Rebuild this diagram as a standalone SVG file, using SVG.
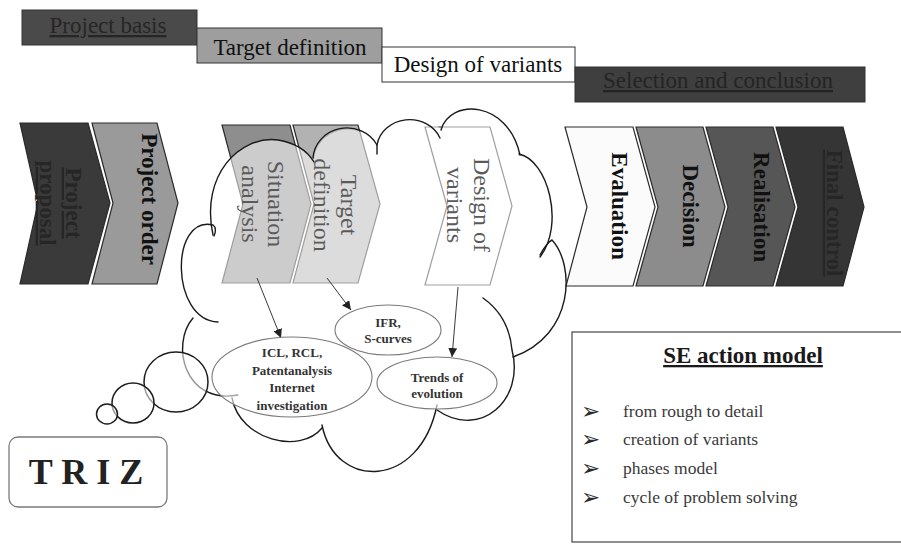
<svg xmlns="http://www.w3.org/2000/svg" width="901" height="546" viewBox="0 0 901 546">
  <style>
    .serif { font-family: "Liberation Serif", "Times New Roman", serif; }
    .bar { stroke: #333; stroke-width: 1; }
    .bartxt { font-family: "Liberation Serif", "Times New Roman", serif; font-size: 23px; text-anchor: middle; }
    .chev { stroke: #2a2a2a; stroke-width: 1.2; stroke-linejoin: miter; }
    .chevb { font-size: 23px; font-weight: bold; text-anchor: middle; fill: #111; }
    .chevr { font-size: 24px; text-anchor: middle; fill: #5a5a5a; }
    .cloudline { fill: none; stroke: #1a1a1a; stroke-width: 1.4; stroke-linecap: round; }
    .ell { fill: #fff; fill-opacity: 0.6; stroke: #7a7a7a; stroke-width: 1.1; }
    .elltxt { font-size: 13px; font-weight: bold; text-anchor: middle; fill: #333; }
    .conn { stroke: #3a3a3a; stroke-width: 1; fill: none; }
    .bubble { fill: #fff; fill-opacity: 0.55; stroke: #1e1e1e; stroke-width: 1.5; }
    .item { font-size: 17.5px; fill: #3a3a3a; }
    .bullet { font-family: "DejaVu Sans", sans-serif; font-size: 23px; fill: #2a2a2a; }
  </style>
  <defs>
    <marker id="head" viewBox="0 0 10 10" refX="10" refY="5" markerWidth="9" markerHeight="9" markerUnits="userSpaceOnUse" orient="auto">
      <path d="M0,0 L10,5 L0,10 Z" fill="#222"/>
    </marker>
  </defs>

  <rect width="901" height="546" fill="#fff"/>

  <!-- phase bars along the top -->
  <g id="bar-project-basis">
    <rect class="bar" x="22" y="10" width="175" height="35" fill="#4a4a4a"/>
    <text class="bartxt" x="108" y="33" fill="#262626" text-decoration="underline">Project basis</text>
  </g>
  <g id="bar-target-definition">
    <rect class="bar" x="197" y="28" width="185" height="35" fill="#9e9e9e"/>
    <text class="bartxt" x="290" y="55" fill="#111">Target definition</text>
  </g>
  <g id="bar-design-of-variants">
    <rect class="bar" x="382" y="47" width="193" height="35" fill="#fff"/>
    <text class="bartxt" x="478" y="72" fill="#111">Design of variants</text>
  </g>
  <g id="bar-selection">
    <rect class="bar" x="575" y="67" width="290" height="35" fill="#3f3f3f"/>
    <text class="bartxt" x="718" y="88" fill="#242424" text-decoration="underline">Selection and conclusion</text>
  </g>

  <!-- process chevrons -->
  <g id="chev-project-proposal">
    <polygon class="chev" points="20,123 88,123 110,203 88,284 20,284 38,203" fill="#3a3a3a"/>
    <g transform="translate(66,203) rotate(90)">
      <text class="serif chevb" x="0" y="0" style="fill:#262626" text-decoration="underline">Project</text>
      <text class="serif chevb" x="0" y="26" style="fill:#262626" text-decoration="underline">proposal</text>
    </g>
  </g>
  <g id="chev-project-order">
    <polygon class="chev" points="92,123 157,123 178,203 157,284 92,284 113,203" fill="#9a9a9a"/>
    <text class="serif chevb" transform="translate(142,199) rotate(90)">Project order</text>
  </g>
  <g id="chev-situation-analysis">
    <polygon class="chev" points="222,125 290,125 311,204 290,283 222,283 243,204" fill="#8e8e8e"/>
  </g>
  <g id="chev-target-definition">
    <polygon class="chev" points="293,125 358,125 380,204 358,283 293,283 314,204" fill="#b2b2b2"/>
  </g>
  <g id="chev-design-of-variants">
    <polygon class="chev" points="425,127 490,127 512,206 490,285 425,285 447,206" fill="#fff"/>
  </g>
  <g id="chev-evaluation">
    <polygon class="chev" points="565,127 633,127 655,207 633,286 566,286 587,207" fill="#fbfbfb"/>
    <text class="serif chevb" transform="translate(612,206) rotate(90)">Evaluation</text>
  </g>
  <g id="chev-decision">
    <polygon class="chev" points="636,127 703,127 725,207 703,286 636,286 658,207" fill="#8c8c8c"/>
    <text class="serif chevb" transform="translate(683,206) rotate(90)">Decision</text>
  </g>
  <g id="chev-realisation">
    <polygon class="chev" points="706,127 773,127 795,207 773,286 706,286 728,207" fill="#565656"/>
    <text class="serif chevb" transform="translate(754,207) rotate(90)">Realisation</text>
  </g>
  <g id="chev-final-control">
    <polygon class="chev" points="776,127 843,127 864,207 843,286 776,286 798,207" fill="#353535"/>
    <text class="serif chevb" transform="translate(827,213) rotate(90)" style="fill:#262626" text-decoration="underline">Final control</text>
  </g>

  <!-- thought cloud: translucent body, then outline bumps -->
  <g id="cloud">
    <path fill="#fff" fill-opacity="0.55" d="M213,235 C200,175 240,135 278,140 C296,143 308,152 314,160
      A34 32 0 0 1 377,145 A33 30 0 0 1 441,132 L441,130
      C450,98 508,100 520,155 C548,160 565,225 540,257 L548,242
      C575,265 575,335 513,357 L512,350
      C525,400 480,440 437,410 C420,490 335,490 322,428
      C300,455 240,440 232,398 L238,395
      C185,405 170,345 193,318 L218,322
      C170,320 170,215 213,225 Z"/>
    <path class="cloudline" d="M213,235 C200,175 240,135 278,140 C296,143 308,152 314,162"/>
    <path class="cloudline" d="M313,158 A34 32 0 0 1 377,145 L377,154"/>
    <path class="cloudline" d="M377,145 A33 30 0 0 1 440,138"/>
    <path class="cloudline" d="M441,130 C450,98 508,100 520,155"/>
    <path class="cloudline" d="M519,154 C548,160 565,225 540,257"/>
    <path class="cloudline" d="M540,255 C545,246 548,242 552,240 C575,265 575,335 513,357"/>
    <path class="cloudline" d="M483,298 C500,310 510,328 512,350 C525,400 480,440 437,410"/>
    <path class="cloudline" d="M437,405 C420,490 335,490 322,425"/>
    <path class="cloudline" d="M322,428 C300,455 240,440 232,398"/>
    <path class="cloudline" d="M238,395 C185,405 170,345 193,318"/>
    <path class="cloudline" d="M218,322 C170,320 170,215 213,225 C216,227 216,231 214,236"/>
  </g>

  <!-- chevron labels inside the cloud -->
  <g id="labels-in-cloud" class="serif">
    <g transform="translate(268,204) rotate(90)">
      <text class="chevr" x="0" y="0">Situation</text>
      <text class="chevr" x="0" y="26">analysis</text>
    </g>
    <g transform="translate(341,205) rotate(90)">
      <text class="chevr" x="0" y="0">Target</text>
      <text class="chevr" x="0" y="27">definition</text>
    </g>
    <g transform="translate(474,205) rotate(90)">
      <text class="chevr" x="0" y="0">Design of</text>
      <text class="chevr" x="0" y="27">variants</text>
    </g>
  </g>

  <!-- connectors -->
  <g id="connectors">
    <line class="conn" x1="257" y1="278" x2="281" y2="338" marker-end="url(#head)"/>
    <line class="conn" x1="327" y1="278" x2="351" y2="310" marker-end="url(#head)"/>
    <line class="conn" x1="458" y1="287" x2="452" y2="357" marker-end="url(#head)"/>
  </g>

  <!-- method ellipses -->
  <g id="node-ifr">
    <ellipse class="ell" cx="388" cy="330" rx="53" ry="25"/>
    <text class="serif elltxt" x="388" y="327">IFR,</text>
    <text class="serif elltxt" x="388" y="343">S-curves</text>
  </g>
  <g id="node-icl">
    <ellipse class="ell" cx="292" cy="377" rx="80" ry="40"/>
    <text class="serif elltxt" x="292" y="357">ICL, RCL,</text>
    <text class="serif elltxt" x="292" y="375">Patentanalysis</text>
    <text class="serif elltxt" x="292" y="392">Internet</text>
    <text class="serif elltxt" x="292" y="410">investigation</text>
  </g>
  <g id="node-trends">
    <ellipse class="ell" cx="437" cy="383" rx="60" ry="26"/>
    <text class="serif elltxt" x="437" y="382">Trends of</text>
    <text class="serif elltxt" x="437" y="398">evolution</text>
  </g>

  <!-- thought bubbles -->
  <g id="bubbles">
    <ellipse class="bubble" cx="176" cy="382" rx="32" ry="30"/>
    <ellipse class="bubble" cx="133" cy="403" rx="21" ry="20"/>
    <ellipse class="bubble" cx="107" cy="414" rx="10.5" ry="10"/>
  </g>

  <!-- TRIZ label -->
  <g id="node-triz">
    <rect x="9" y="437" width="158" height="70" rx="9" fill="#fff" stroke="#7a7a7a" stroke-width="1.3"/>
    <text class="serif" x="86" y="484" font-size="36" font-weight="bold" text-anchor="middle" fill="#222">T R I Z</text>
  </g>

  <!-- SE action model panel -->
  <g id="node-se-action-model">
    <rect x="572" y="332" width="335" height="210" fill="#fff" stroke="#444" stroke-width="1.2"/>
    <text class="serif" x="743" y="363" font-size="23" font-weight="bold" text-anchor="middle" fill="#1a1a1a" text-decoration="underline">SE action model</text>
    <text class="bullet" x="581" y="419">➢</text>
    <text class="bullet" x="581" y="447">➢</text>
    <text class="bullet" x="581" y="476">➢</text>
    <text class="bullet" x="581" y="505">➢</text>
    <text class="serif item" x="623" y="417">from rough to detail</text>
    <text class="serif item" x="623" y="445">creation of variants</text>
    <text class="serif item" x="623" y="474">phases model</text>
    <text class="serif item" x="623" y="503">cycle of problem solving</text>
  </g>
</svg>
